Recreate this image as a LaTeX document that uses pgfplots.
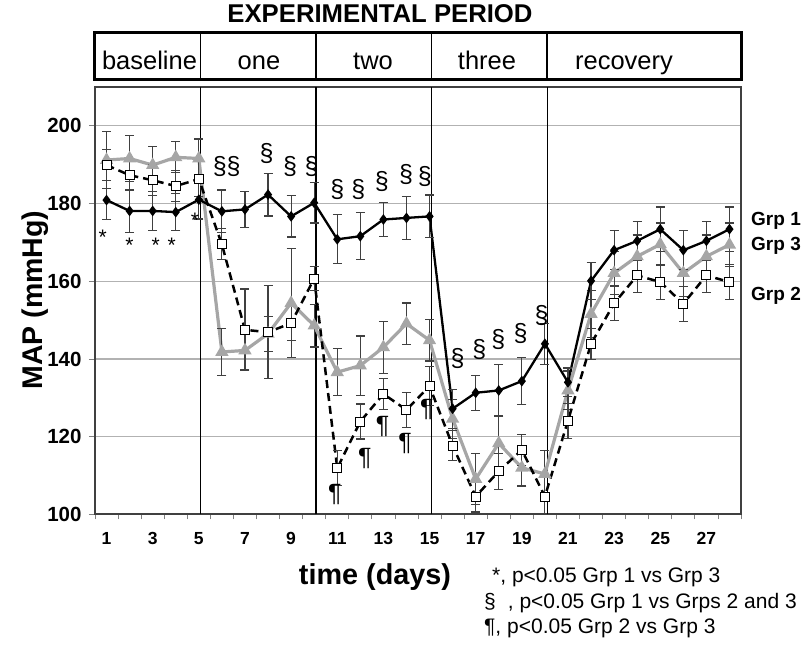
\documentclass[border=0pt]{standalone}
\usepackage{fontspec}
\setmainfont{Liberation Sans}
\usepackage{pgfplots}
\usepackage{pgfplotstable}
\pgfplotsset{compat=1.18}
\pgfplotstableread{
day g1 e1 g3 e3 g2 e2
1 180.9 5.0 191.2 7.3 189.9 4.0
2 178.1 5.5 191.6 6.0 187.3 4.0
3 178.1 5.0 189.9 4.7 186.0 4.0
4 177.8 4.7 191.9 4.0 184.5 4.0
5 181.0 5.0 191.6 5.0 186.3 4.5
6 178.0 5.5 141.8 6.0 169.5 4.0
7 178.5 4.7 142.2 5.0 147.5 10.5
8 182.3 5.5 146.5 4.5 146.9 12.0
9 176.7 5.3 154.4 14.0 149.2 4.5
10 180.2 5.2 148.6 5.5 160.7 3.0
11 170.8 6.3 136.6 6.0 111.9 4.5
12 171.6 6.0 138.3 7.6 123.9 4.5
13 175.9 4.4 143.0 6.7 131.0 4.0
14 176.3 5.5 149.1 5.3 126.9 4.5
15 176.7 5.5 144.8 5.3 133.0 5.0
16 127.2 5.0 124.6 5.0 117.7 3.8
17 131.3 4.5 109.1 6.5 104.6 4.0
18 131.9 6.7 118.3 7.0 111.1 4.6
19 134.3 6.0 112.0 4.7 116.6 4.0
20 143.9 5.3 110.4 6.0 104.6 5.0
21 134.0 3.7 131.9 5.0 124.1 4.5
22 160.1 4.8 151.6 6.0 143.9 4.0
23 168.0 5.0 162.1 5.5 154.3 4.5
24 170.4 5.0 166.4 5.5 161.5 4.3
25 173.4 5.7 169.5 5.5 159.8 4.5
26 168.0 5.0 162.1 6.0 154.2 4.5
27 170.4 5.0 166.4 5.5 161.5 4.3
28 173.4 5.7 169.4 5.6 159.8 4.5
}\datatable
\pgfplotsset{ebar/.style={error bars/.cd, y dir=both, y explicit,
  error bar style={line width=1.2pt, black!75, solid},
  error mark=|, error mark options={line width=1.2pt, black!75, mark size=4.5pt, solid}}}
\begin{document}
\begin{tikzpicture}
\useasboundingbox (0pt,0pt) rectangle (806pt,647pt);
\begin{axis}[
  at={(95pt,132.6pt)}, anchor=south west, scale only axis,
  width=646pt, height=427.4pt,
  xmin=0.5, xmax=28.5, ymin=100, ymax=210,
  axis line style={line width=1.8pt, black!75},
  xtick={1,3,...,27}, minor xtick={0.5,1.5,...,28.5},
  major x tick style={draw=none},
  minor x tick style={gray, line width=0.8pt},
  ytick={100,120,...,200},
  ytick style={gray, line width=0.8pt},
  tick align=outside, major tick length=6pt, minor tick length=5pt,
  xtick pos=bottom, ytick pos=left,
  ymajorgrids, grid style={gray!60, line width=1.1pt},
  yticklabel style={font=\fontsize{20.5}{22}\selectfont\bfseries, xshift=-4pt},
  xticklabel style={font=\fontsize{17.5}{19}\selectfont\bfseries, text height=12.6pt, text depth=0pt, yshift=-8pt},
  /pgf/number format/assume math mode=true,
]
\draw[line width=1.2pt] (axis cs:5.08,100) -- (axis cs:5.08,210);
\draw[line width=1.2pt] (axis cs:10.08,100) -- (axis cs:10.08,210);
\draw[line width=1.2pt] (axis cs:15.1,100) -- (axis cs:15.1,210);
\draw[line width=1.2pt] (axis cs:20.1,100) -- (axis cs:20.1,210);
\addplot[gray!70, line width=3.2pt, mark=triangle*, mark size=4.5pt, mark options={gray!70, solid}, ebar]
  table[x=day, y=g3, y error=e3] {\datatable};
\addplot[black, line width=2.3pt, mark=diamond*, mark size=3.5pt, mark options={black, solid}, ebar]
  table[x=day, y=g1, y error=e1] {\datatable};
\addplot[black, line width=2.5pt, dash pattern=on 8pt off 5pt, mark=square*, mark size=4.5pt, mark options={fill=white, draw=black, line width=1pt, solid}, ebar]
  table[x=day, y=g2, y error=e2] {\datatable};
% significance marks
\begin{scope}[every node/.style={font=\fontsize{21}{23}\selectfont, inner sep=0pt}]
\node at (axis cs:0.83,171.4) {*};
\node at (axis cs:1.99,169.2) {*};
\node at (axis cs:3.13,169.2) {*};
\node at (axis cs:3.82,169.2) {*};
\node at (axis cs:4.83,175.6) {*};
\end{scope}
\begin{scope}[every node/.style={font=\fontsize{25}{27}\selectfont, inner sep=0pt}]
\node at (axis cs:6.21,189.5) {§§};
\node at (axis cs:7.94,192.9) {§};
\node at (axis cs:8.95,189.5) {§};
\node at (axis cs:9.89,189.5) {§};
\node at (axis cs:11.0,183.5) {§};
\node at (axis cs:11.91,183.5) {§};
\node at (axis cs:12.93,185.6) {§};
\node at (axis cs:13.98,187.4) {§};
\node at (axis cs:14.8,186.9) {§};
\node at (axis cs:16.21,140.0) {§};
\node at (axis cs:17.16,142.5) {§};
\node at (axis cs:17.98,144.9) {§};
\node at (axis cs:18.95,146.6) {§};
\node at (axis cs:19.86,151.3) {§};
\node at (axis cs:10.9,105.0) {¶};
\node at (axis cs:12.2,114.4) {¶};
\node at (axis cs:12.97,122.6) {¶};
\node at (axis cs:13.94,118.3) {¶};
\node at (axis cs:14.88,126.9) {¶};
\end{scope}
\end{axis}
% header
\node[anchor=base, font=\fontsize{25.7}{27}\selectfont\bfseries] at (380pt,624pt) {EXPERIMENTAL PERIOD};
\draw[line width=3pt] (94pt,567pt) rectangle (741pt,614pt);
\foreach \xx in {200.7,316,431.7,547} \draw[line width=1.4pt] (\xx pt,567pt) -- (\xx pt,614pt);
\begin{scope}[every node/.style={anchor=base, font=\fontsize{25.5}{27}\selectfont}]
\node at (149.5pt,577pt) {baseline};
\node at (259pt,577pt) {one};
\node at (373pt,577pt) {two};
\node at (487pt,577pt) {three};
\node at (624pt,577pt) {recovery};
\end{scope}
% axis titles
\node[rotate=90, font=\fontsize{28.5}{30}\selectfont\bfseries] at (35pt,347pt) {MAP (mmHg)};
\node[font=\fontsize{28.8}{30}\selectfont\bfseries] at (375pt,70pt) {time (days)};
% group labels
\begin{scope}[every node/.style={anchor=west, inner sep=0pt, font=\fontsize{19}{21}\selectfont\bfseries}]
\node at (751pt,426pt) {Grp 1};
\node at (751pt,401pt) {Grp 3};
\node at (751pt,351pt) {Grp 2};
\end{scope}
% footnotes
\begin{scope}[every node/.style={anchor=west, inner sep=0pt, font=\fontsize{21}{23}\selectfont}]
\node at (492pt,70pt) {*, p<0.05 Grp 1 vs Grp 3};
\node at (484pt,44pt) {§\hspace{12pt}, p<0.05 Grp 1 vs Grps 2 and 3};
\node at (484pt,19pt) {¶, p<0.05 Grp 2 vs Grp 3};
\end{scope}
\end{tikzpicture}
\end{document}
